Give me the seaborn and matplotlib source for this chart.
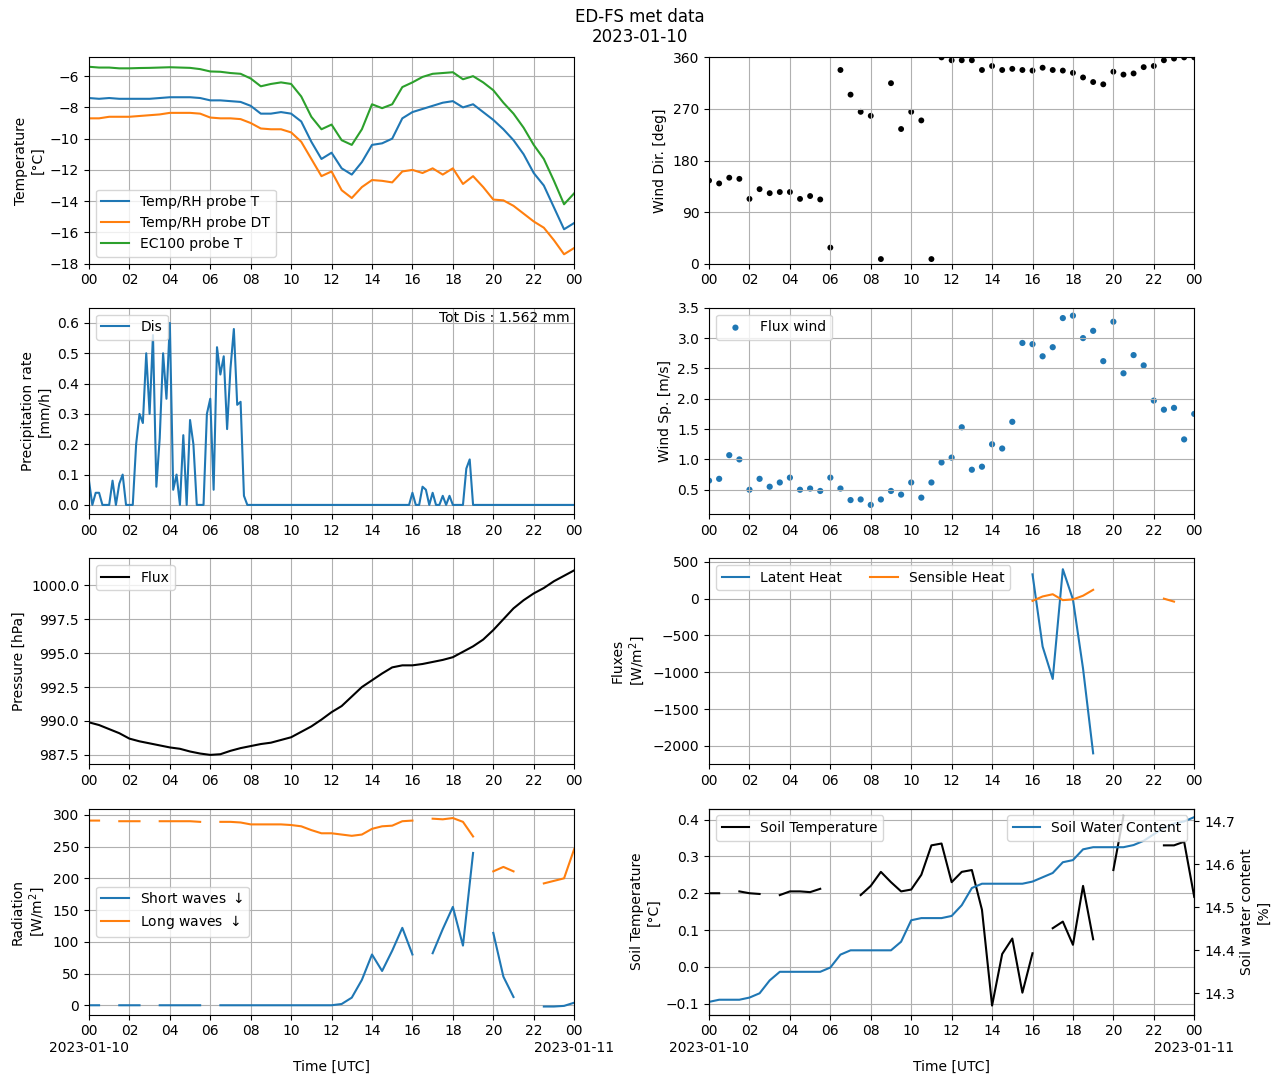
import numpy as np
import pandas as pd
import seaborn as sns
import matplotlib.pyplot as plt

nan = np.nan
hours = np.arange(0, 24.01, 0.5)
hours10 = np.arange(0, 24.01, 1 / 6)

temp_rh = [-7.4, -7.45, -7.4, -7.45, -7.45, -7.45, -7.45, -7.4, -7.35, -7.35, -7.35, -7.4, -7.55, -7.55, -7.6, -7.65,
           -7.9, -8.4, -8.4, -8.3, -8.4, -8.9, -10.2, -11.3, -10.9, -11.9, -12.3, -11.5, -10.4, -10.3, -10.0, -8.7,
           -8.3, -8.1, -7.9, -7.7, -7.6, -8.0, -7.8, -8.3, -8.8, -9.4, -10.1, -11.0, -12.2, -13.0, -14.4, -15.8, -15.4]
temp_dt = [-8.7, -8.7, -8.6, -8.6, -8.6, -8.55, -8.5, -8.45, -8.35, -8.35, -8.35, -8.4, -8.65, -8.7, -8.7, -8.75,
           -9.0, -9.35, -9.4, -9.4, -9.6, -10.2, -11.3, -12.4, -12.1, -13.3, -13.8, -13.1, -12.65, -12.7, -12.8, -12.1,
           -12.0, -12.2, -11.9, -12.3, -11.9, -12.9, -12.4, -13.1, -13.9, -13.95, -14.3, -14.8, -15.3, -15.7, -16.5, -17.4, -17.0]
temp_ec = [-5.4, -5.45, -5.45, -5.5, -5.5, -5.48, -5.47, -5.45, -5.43, -5.45, -5.47, -5.55, -5.7, -5.72, -5.8, -5.85,
           -6.15, -6.65, -6.5, -6.4, -6.5, -7.3, -8.6, -9.4, -9.1, -10.1, -10.4, -9.4, -7.8, -8.05, -7.8, -6.7,
           -6.4, -6.05, -5.85, -5.8, -5.75, -6.2, -6.0, -6.4, -6.9, -7.7, -8.4, -9.3, -10.4, -11.3, -12.7, -14.2, -13.5]

wind_dir = [145, 140, 150, 148, 113, 130, 123, 125, 125, 113, 118, 112, 28, 338, 295, 265, 258, 8, 315, 235, 265, 250,
            8, 360, 355, 355, 355, 338, 345, 338, 340, 338, 337, 342, 338, 337, 333, 325, 317, 313, 335, 330, 332,
            343, 345, 355, 358, 360, 360]
wind_sp = [0.65, 0.68, 1.07, 1.0, 0.5, 0.68, 0.55, 0.62, 0.7, 0.5, 0.52, 0.48, 0.7, 0.52, 0.33, 0.34, 0.25, 0.34,
           0.48, 0.42, 0.62, 0.37, 0.62, 0.95, 1.03, 1.53, 0.83, 0.88, 1.25, 1.18, 1.62, 2.92, 2.9, 2.7, 2.85, 3.33,
           3.37, 3.0, 3.12, 2.62, 3.27, 2.42, 2.72, 2.55, 1.97, 1.82, 1.85, 1.33, 1.75]

precip = [0.08, 0.0, 0.04, 0.04, 0, 0, 0, 0.08, 0.0, 0.07, 0.1, 0,
          0, 0, 0.2, 0.3, 0.27, 0.5, 0.3, 0.56, 0.06, 0.22, 0.5, 0.35,
          0.6, 0.05, 0.1, 0.0, 0.23, 0.0, 0.28, 0.2, 0, 0, 0, 0.3,
          0.35, 0.05, 0.52, 0.43, 0.49, 0.25, 0.45, 0.58, 0.33, 0.34, 0.03, 0] + [0] * 48 + \
         [0.04, 0, 0, 0.06, 0.05, 0, 0.04, 0, 0, 0.03, 0, 0.03,
          0, 0, 0, 0, 0.12, 0.15] + [0] * 31

pressure = [989.9, 989.7, 989.4, 989.1, 988.7, 988.5, 988.35, 988.2, 988.05, 987.95, 987.75, 987.6, 987.5, 987.55,
            987.8, 988.0, 988.15, 988.3, 988.4, 988.6, 988.8, 989.2, 989.6, 990.1, 990.65, 991.1, 991.8, 992.5, 993.0,
            993.5, 993.95, 994.1, 994.1, 994.2, 994.35, 994.5, 994.7, 995.1, 995.5, 996.0, 996.7, 997.5, 998.3, 998.9,
            999.4, 999.8, 1000.3, 1000.7, 1001.1]

latent = [nan] * 32 + [330, -650, -1090, 400, -10, -950, -2100] + [nan] * 10
sensible = [nan] * 32 + [-30, 30, 60, -20, -10, 40, 120] + [nan] * 6 + [0, -40] + [nan] * 2

short_w = [0, 0, nan, 0, 0, 0, nan, 0, 0, 0, 0, 0, nan, 0, 0, 0, 0, 0, 0, 0, 0, 0, 0, 0, 0, 2, 12, 40, 80, 54, 86,
           122, 80, nan, 82, 120, 155, 94, 240, nan, 114, 45, 13, nan, nan, -2, -2, -1, 4]
long_w = [291, 291, nan, 290, 290, 290, nan, 290, 290, 290, 290, 289, nan, 289, 289, 288, 285, 285, 285, 285, 284,
          282, 276, 271, 271, 269, 267, 269, 278, 282, 283, 290, 291, nan, 294, 293, 295, 289, 266, nan, 211, 218,
          211, nan, nan, 192, 196, 200, 246]

soil_t = [0.2, 0.2, nan, 0.205, 0.2, 0.198, nan, 0.195, 0.205, 0.205, 0.203, 0.212, nan, nan, nan, 0.195, 0.22,
          0.258, 0.23, 0.205, 0.21, 0.25, 0.33, 0.335, 0.23, 0.258, 0.263, 0.155, -0.105, 0.035, 0.077, -0.07, 0.037,
          nan, 0.105, 0.123, 0.06, 0.22, 0.075, nan, 0.263, 0.41, nan, nan, nan, 0.33, 0.33, 0.34, 0.19]
soil_w = [14.28, 14.285, 14.285, 14.285, 14.29, 14.3, 14.33, 14.35, 14.35, 14.35, 14.35, 14.35, 14.36, 14.39, 14.4,
          14.4, 14.4, 14.4, 14.4, 14.42, 14.47, 14.475, 14.475, 14.475, 14.48, 14.505, 14.545, 14.555, 14.555, 14.555,
          14.555, 14.555, 14.56, 14.57, 14.58, 14.605, 14.61, 14.635, 14.64, 14.64, 14.64, 14.64, 14.645, 14.655,
          14.67, 14.685, 14.695, 14.7, 14.71]

ticks = np.arange(0, 25, 2)
labels = ['%02d' % (t % 24) for t in ticks]

fig, axes = plt.subplots(4, 2, figsize=(12.8, 10.83), dpi=100)
fig.suptitle('ED-FS met data\n2023-01-10', y=0.993)

for ax in axes.flat:
    ax.set_xlim(0, 24)
    ax.set_xticks(ticks)
    ax.set_xticklabels(labels)
    ax.grid(True)
for ax in axes[3]:
    lab = labels.copy()
    lab[0] = '00\n2023-01-10'
    lab[-1] = '00\n2023-01-11'
    ax.set_xticklabels(lab)
    ax.set_xlabel('Time [UTC]')

ax = axes[0, 0]
sns.lineplot(x=hours, y=temp_rh, ax=ax, label='Temp/RH probe T')
sns.lineplot(x=hours, y=temp_dt, ax=ax, label='Temp/RH probe DT')
sns.lineplot(x=hours, y=temp_ec, ax=ax, label='EC100 probe T')
ax.set_ylim(-18, -4.8)
ax.set_ylabel('Temperature\n[°C]')
ax.legend(loc='lower left')

ax = axes[0, 1]
sns.scatterplot(x=hours, y=wind_dir, ax=ax, color='black', s=18, edgecolor='none')
ax.set_ylim(0, 360)
ax.set_yticks([0, 90, 180, 270, 360])
ax.set_ylabel('Wind Dir. [deg]')

ax = axes[1, 0]
sns.lineplot(x=hours10, y=precip, ax=ax, label='Dis')
ax.set_ylim(-0.03, 0.65)
ax.set_ylabel('Precipitation rate\n[mm/h]')
ax.legend(loc='upper left')
ax.text(0.99, 0.985, 'Tot Dis : 1.562 mm', transform=ax.transAxes, ha='right', va='top')

ax = axes[1, 1]
sns.scatterplot(x=hours, y=wind_sp, ax=ax, s=20, edgecolor='none', label='Flux wind')
ax.set_ylim(0.1, 3.5)
ax.set_ylabel('Wind Sp. [m/s]')
ax.legend(loc='upper left')

ax = axes[2, 0]
sns.lineplot(x=hours, y=pressure, ax=ax, color='black', label='Flux')
ax.set_ylim(986.8, 1002)
ax.set_ylabel('Pressure [hPa]')
ax.legend(loc='upper left')

ax = axes[2, 1]
ax.plot(hours, latent, label='Latent Heat')
ax.plot(hours, sensible, label='Sensible Heat')
ax.set_ylim(-2250, 550)
ax.set_ylabel('Fluxes\n[W/m$^2$]')
ax.legend(loc='upper left', ncol=2)

ax = axes[3, 0]
ax.plot(hours, short_w, label='Short waves $\\downarrow$')
ax.plot(hours, long_w, label='Long waves $\\downarrow$')
ax.set_ylim(-15, 310)
ax.set_ylabel('Radiation\n[W/m$^2$]')
ax.legend(loc='center left')

ax = axes[3, 1]
ax.plot(hours, soil_t, color='black', label='Soil Temperature')
ax.set_ylim(-0.13, 0.43)
ax.set_ylabel('Soil Temperature\n[°C]')
ax.legend(loc='upper left')
ax2 = ax.twinx()
ax2.plot(hours, soil_w, color='tab:blue', label='Soil Water Content')
ax2.set_ylim(14.25, 14.73)
ax2.set_ylabel('Soil water content\n[%]')
ax2.legend(loc='upper right')

plt.subplots_adjust(left=0.0695, right=0.933, top=0.947, bottom=0.063, wspace=0.278, hspace=0.214)
plt.savefig('out.png')
